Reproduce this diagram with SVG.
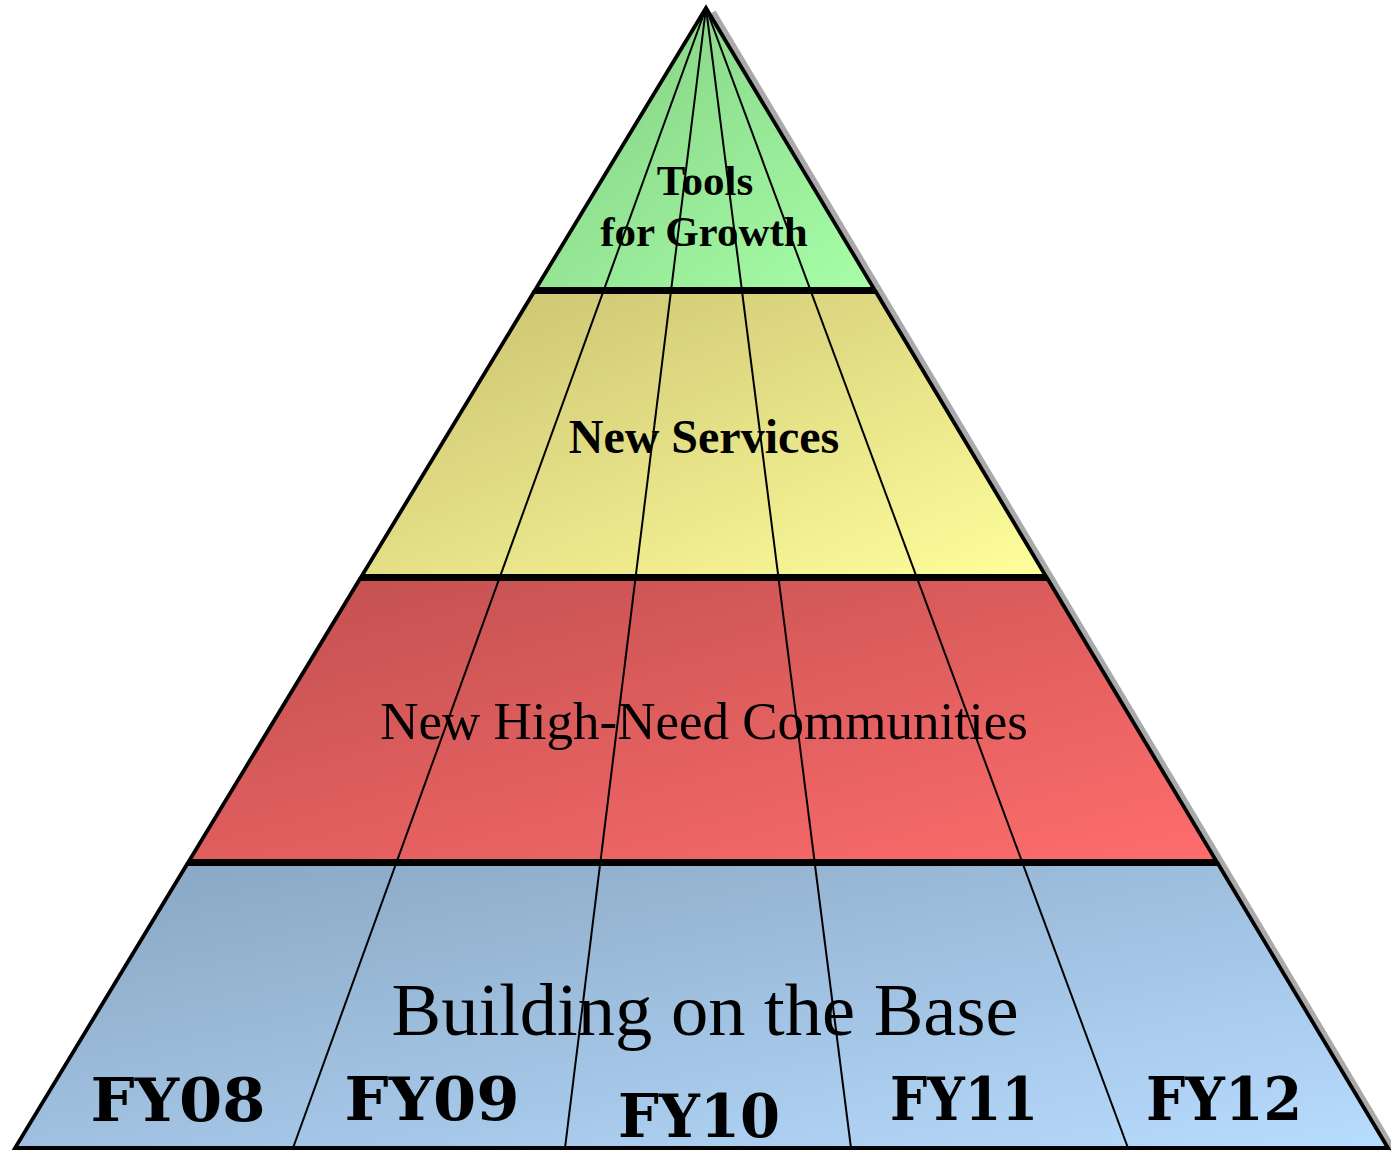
<svg xmlns="http://www.w3.org/2000/svg" width="1391" height="1151" viewBox="0 0 1391 1151">
<style>
.band{stroke:#000;stroke-width:3.8;stroke-linejoin:miter}
.fan{stroke:#000;stroke-width:2;fill:none}
.lbl{font-family:"Liberation Serif",serif;fill:#000;text-anchor:middle}
.fy{font-family:"DejaVu Serif",serif;font-weight:bold;font-size:59px;fill:#000;text-anchor:middle}
</style>
<defs>
<linearGradient id="gG" x1="0" y1="0" x2="1" y2="1"><stop offset="0" stop-color="#80cc80"/><stop offset="1" stop-color="#a8ffa8"/></linearGradient>
<linearGradient id="gY" x1="0" y1="0" x2="1" y2="1"><stop offset="0" stop-color="#c8c070"/><stop offset="1" stop-color="#ffff9c"/></linearGradient>
<linearGradient id="gR" x1="0" y1="0" x2="1" y2="1"><stop offset="0" stop-color="#c04f4f"/><stop offset="1" stop-color="#ff6d6d"/></linearGradient>
<linearGradient id="gB" x1="0" y1="0" x2="1" y2="1"><stop offset="0" stop-color="#87a5c1"/><stop offset="1" stop-color="#b8dcff"/></linearGradient>
</defs>
<rect width="1391" height="1151" fill="#fff"/>
<line x1="713" y1="12" x2="1394" y2="1151" stroke="#aaaaaa" stroke-width="6"/>
<g id="band-tools">
<polygon class="band" fill="url(#gG)" points="706,8 874.1,289 535.7,289"/>
</g>
<g id="band-services">
<polygon class="band" fill="url(#gY)" points="533.9,292 875.9,292 1045.8,576 361.7,576"/>
</g>
<g id="band-communities">
<polygon class="band" fill="url(#gR)" points="359.9,579 1047.6,579 1216.3,861 189,861"/>
</g>
<g id="band-base">
<polygon class="band" fill="url(#gB)" points="187.2,864 1218.1,864 1388,1148 15,1148"/>
</g>
<g id="connectors">
<line class="fan" x1="706" y1="8" x2="293" y2="1148"/>
<line class="fan" x1="706" y1="8" x2="565" y2="1148"/>
<line class="fan" x1="706" y1="8" x2="851" y2="1148"/>
<line class="fan" x1="706" y1="8" x2="1128" y2="1148"/>
</g>
<g id="labels">
<text class="lbl" x="705" y="195" font-size="43" font-weight="bold">Tools</text>
<text class="lbl" x="704" y="246" font-size="43" font-weight="bold">for Growth</text>
<text class="lbl" x="704" y="453" font-size="48" font-weight="bold">New Services</text>
<text class="lbl" x="704" y="739" font-size="53">New High-Need Communities</text>
<text class="lbl" x="705" y="1035" font-size="74.5">Building on the Base</text>
</g>
<g id="years">
<text class="fy" x="178" y="1121" textLength="175" lengthAdjust="spacingAndGlyphs">FY08</text>
<text class="fy" x="432" y="1120" textLength="175" lengthAdjust="spacingAndGlyphs">FY09</text>
<text class="fy" x="699" y="1137" textLength="162" lengthAdjust="spacingAndGlyphs">FY10</text>
<text class="fy" x="964" y="1120" textLength="148" lengthAdjust="spacingAndGlyphs">FY11</text>
<text class="fy" x="1224" y="1120" textLength="156" lengthAdjust="spacingAndGlyphs">FY12</text>
</g>
</svg>
